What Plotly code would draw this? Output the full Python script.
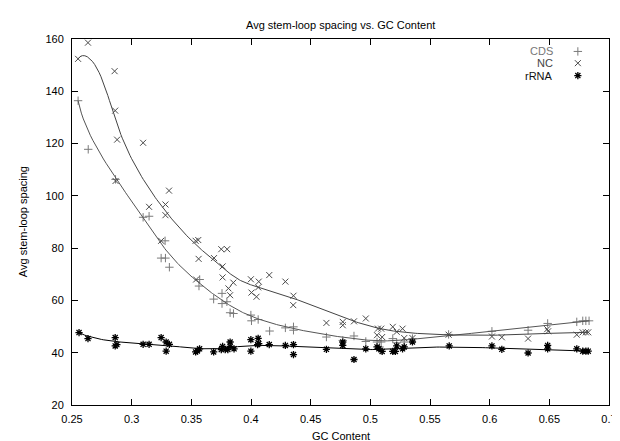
import math
import numpy as np
import plotly.graph_objects as go

# ---------------- data ----------------
cds_gc = [0.2551, 0.2636, 0.2865, 0.3096, 0.3146, 0.3247, 0.3280, 0.3283, 0.3316, 0.3570,
          0.3564, 0.3687, 0.3757, 0.3757, 0.3798, 0.3825, 0.3853, 0.3999, 0.4004, 0.4060,
          0.4156, 0.4288, 0.4356, 0.4356, 0.4632, 0.4769, 0.4863, 0.4962, 0.5056, 0.5091,
          0.5078, 0.5188, 0.5221, 0.5284, 0.5353, 0.5656, 0.6019, 0.6322, 0.6486, 0.6730,
          0.6780, 0.6806, 0.6833]
cds_val = [136.4, 117.8, 106.3, 91.8, 92.2, 76.2, 82.8, 76.2, 72.7, 68.0,
           65.5, 60.5, 62.7, 58.8, 59.5, 55.3, 55.0, 54.4, 52.2, 52.7,
           48.3, 49.5, 49.9, 48.6, 46.0, 44.7, 46.4, 44.3, 44.1, 44.1,
           42.2, 45.4, 43.8, 44.1, 45.4, 47.0, 48.2, 48.6, 51.2, 51.8,
           52.2, 52.2, 52.2]

nc_gc = [0.2551, 0.2634, 0.2857, 0.2862, 0.2865, 0.2878, 0.3096, 0.3146, 0.3247, 0.3283,
         0.3283, 0.3313, 0.3536, 0.3540, 0.3558, 0.3561, 0.3690, 0.3751, 0.3762, 0.3762,
         0.3800, 0.3811, 0.3825, 0.3852, 0.3999, 0.4004, 0.4046, 0.4060, 0.4065, 0.4153,
         0.4288, 0.4356, 0.4354, 0.4632, 0.4769, 0.4769, 0.4863, 0.4962, 0.5064, 0.5091,
         0.5056, 0.5099, 0.5188, 0.5221, 0.5270, 0.5284, 0.5353, 0.5656, 0.6019, 0.6102,
         0.6322, 0.6482, 0.6490, 0.6730, 0.6779, 0.6806, 0.6826]
nc_val = [152.4, 158.6, 147.7, 132.6, 105.7, 121.5, 120.3, 95.8, 82.8, 96.7,
          92.6, 102.0, 82.8, 68.0, 83.1, 75.9, 76.2, 79.6, 73.0, 68.8,
          79.6, 64.6, 62.0, 66.8, 68.1, 63.0, 61.4, 65.0, 67.2, 69.7,
          67.2, 61.8, 58.2, 51.4, 51.8, 50.5, 52.0, 53.1, 49.2, 49.2,
          46.7, 46.0, 49.9, 48.0, 49.2, 45.6, 45.6, 46.9, 46.2, 45.9,
          45.4, 49.0, 48.2, 46.9, 47.8, 47.8, 47.8]

rrna_gc = [0.2559, 0.2634, 0.2862, 0.2862, 0.2876, 0.3096, 0.3146, 0.3247, 0.3289, 0.3316,
           0.3289, 0.3536, 0.3550, 0.3569, 0.3687, 0.3751, 0.3762, 0.3784, 0.3825, 0.3825,
           0.3806, 0.3858, 0.3999, 0.3999, 0.4060, 0.4065, 0.4055, 0.4153, 0.4288, 0.4356,
           0.4356, 0.4632, 0.4769, 0.4769, 0.4863, 0.4962, 0.5056, 0.5072, 0.5099, 0.5188,
           0.5210, 0.5221, 0.5270, 0.5284, 0.5353, 0.5661, 0.6019, 0.6102, 0.6322, 0.6486,
           0.6486, 0.6730, 0.6780, 0.6806, 0.6826]
rrna_val = [47.7, 45.4, 45.8, 42.6, 43.1, 43.2, 43.2, 45.8, 44.1, 43.2,
            40.6, 40.3, 40.7, 41.5, 40.3, 41.2, 42.4, 41.2, 44.1, 42.4,
            41.2, 41.5, 45.0, 40.6, 45.5, 43.5, 43.1, 43.1, 42.8, 43.1,
            39.3, 41.3, 44.1, 42.8, 37.4, 41.5, 42.2, 41.5, 40.5, 40.5,
            40.5, 42.6, 41.5, 42.2, 44.1, 42.6, 42.6, 41.3, 39.9, 42.8,
            41.5, 41.5, 40.6, 40.6, 40.6]

series_names = ["CDS", "NC", "rRNA"]
x_ticks = [0.25, 0.3, 0.35, 0.4, 0.45, 0.5, 0.55, 0.6, 0.65, 0.7]
y_ticks = [20, 40, 60, 80, 100, 120, 140, 160]

# ---------------- bezier smoothing (like gnuplot "smooth bezier") ----------------
def bezier(xs, ys, n_out=300):
    pts = {}
    for x, y in zip(xs, ys):
        pts.setdefault(x, []).append(y)
    px = np.array(sorted(pts))
    py = np.array([np.mean(pts[k]) for k in sorted(pts)])
    n = len(px) - 1
    t = np.linspace(0, 1, n_out)
    bx = np.zeros_like(t)
    by = np.zeros_like(t)
    for k in range(n + 1):
        b = math.comb(n, k) * t ** k * (1 - t) ** (n - k)
        bx += b * px[k]
        by += b * py[k]
    return bx, by

FONT = "Liberation Sans, Arial, sans-serif"
styles = {
    "CDS": dict(sym="cross-thin-open", mcol="#7a7a7a", lcol="#555555", lw=1),
    "NC": dict(sym="x-thin-open", mcol="#4a4a4a", lcol="#444444", lw=1),
    "rRNA": dict(sym="asterisk-open", mcol="#000000", lcol="#000000", lw=1.3),
}
data = {"CDS": (cds_gc, cds_val), "NC": (nc_gc, nc_val), "rRNA": (rrna_gc, rrna_val)}

fig = go.Figure()
for name in series_names:
    xs, ys = data[name]
    st = styles[name]
    fig.add_trace(go.Scatter(x=xs, y=ys, mode="markers", showlegend=False,
                             marker=dict(symbol=st["sym"], size=6, color=st["mcol"],
                                         line=dict(width=st["lw"], color=st["mcol"]))))
    bx, by = bezier(xs, ys)
    fig.add_trace(go.Scatter(x=bx, y=by, mode="lines", showlegend=False,
                             line=dict(color=st["lcol"], width=1), hoverinfo="skip"))

# legend (text right-aligned, sample marker to the right, gnuplot style)
leg_y = [0.966, 0.934, 0.900]
leg_txt_col = {"CDS": "#777777", "NC": "#444444", "rRNA": "#111111"}
for name, yy in zip(series_names, leg_y):
    st = styles[name]
    fig.add_trace(go.Scatter(x=[0.942], y=[yy], xaxis="x2", yaxis="y2", mode="markers",
                             showlegend=False, hoverinfo="skip",
                             marker=dict(symbol=st["sym"], size=6, color=st["mcol"],
                                         line=dict(width=st["lw"], color=st["mcol"]))))
    fig.add_annotation(text=name, xref="paper", yref="paper", x=0.900, y=yy,
                       xanchor="right", yanchor="middle", showarrow=False,
                       font=dict(family=FONT, size=11, color=leg_txt_col[name]))

axis_common = dict(showline=True, mirror="ticks", linecolor="black", linewidth=1,
                   ticks="inside", ticklen=6, tickcolor="black", showgrid=False,
                   zeroline=False, tickfont=dict(family=FONT, size=11, color="black"))

fig.update_layout(
    width=620, height=441,
    margin=dict(l=64, r=11, t=31, b=44),
    paper_bgcolor="white", plot_bgcolor="white",
    showlegend=False,
    xaxis=dict(range=[0.25, 0.7], tickvals=x_ticks, ticktext=[f"{v:g}" for v in x_ticks],
               ticklabelstandoff=4, **axis_common),
    yaxis=dict(range=[20, 160], tickvals=y_ticks, ticklabelstandoff=5, **axis_common),
    xaxis2=dict(range=[0, 1], overlaying="x", visible=False, fixedrange=True),
    yaxis2=dict(range=[0, 1], overlaying="y", visible=False, fixedrange=True),
)

fig.add_annotation(text="Avg stem-loop spacing vs. GC Content", xref="paper", yref="paper",
                   x=0.5, y=1.039, xanchor="center", yanchor="middle", showarrow=False,
                   font=dict(family=FONT, size=11, color="black"))
fig.add_annotation(text="GC Content", xref="paper", yref="paper",
                   x=0.5, y=-0.086, xanchor="center", yanchor="middle", showarrow=False,
                   font=dict(family=FONT, size=11, color="black"))
fig.add_annotation(text="Avg stem-loop spacing", xref="paper", yref="paper",
                   x=-0.091, y=0.5, xanchor="center", yanchor="middle", showarrow=False,
                   textangle=-90, font=dict(family=FONT, size=11, color="black"))

fig.write_html("out.html")
